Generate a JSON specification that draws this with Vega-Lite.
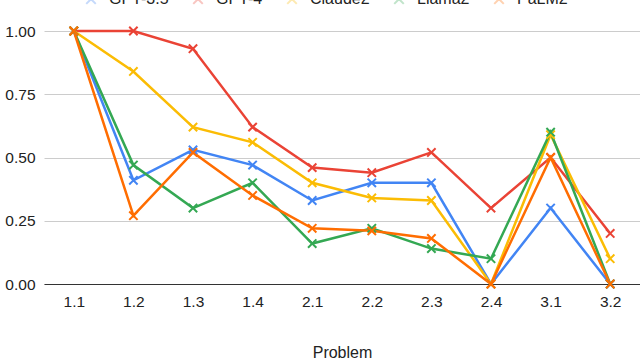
{
  "$schema": "https://vega.github.io/schema/vega-lite/v6.json",
  "autosize": {"type": "none"},
  "padding": {"left": 44, "top": 31, "right": 0, "bottom": 76},
  "width": 596,
  "height": 253,
  "background": "white",
  "config": {
    "font": "Liberation Sans",
    "view": {"stroke": null},
    "axis": {"labelFont": "Liberation Sans", "titleFont": "Liberation Sans", "labelColor": "#222222", "titleColor": "#222222", "labelFontSize": 15.5, "titleFontSize": 16, "titleFontWeight": "normal"}
  },
  "data": {"values": [
    {"problem": "1.1", "model": "GPT-3.5", "score": 1.0},
    {"problem": "1.2", "model": "GPT-3.5", "score": 0.41},
    {"problem": "1.3", "model": "GPT-3.5", "score": 0.53},
    {"problem": "1.4", "model": "GPT-3.5", "score": 0.47},
    {"problem": "2.1", "model": "GPT-3.5", "score": 0.33},
    {"problem": "2.2", "model": "GPT-3.5", "score": 0.40},
    {"problem": "2.3", "model": "GPT-3.5", "score": 0.40},
    {"problem": "2.4", "model": "GPT-3.5", "score": 0.0},
    {"problem": "3.1", "model": "GPT-3.5", "score": 0.30},
    {"problem": "3.2", "model": "GPT-3.5", "score": 0.0},
    {"problem": "1.1", "model": "GPT-4", "score": 1.0},
    {"problem": "1.2", "model": "GPT-4", "score": 1.0},
    {"problem": "1.3", "model": "GPT-4", "score": 0.93},
    {"problem": "1.4", "model": "GPT-4", "score": 0.62},
    {"problem": "2.1", "model": "GPT-4", "score": 0.46},
    {"problem": "2.2", "model": "GPT-4", "score": 0.44},
    {"problem": "2.3", "model": "GPT-4", "score": 0.52},
    {"problem": "2.4", "model": "GPT-4", "score": 0.30},
    {"problem": "3.1", "model": "GPT-4", "score": 0.50},
    {"problem": "3.2", "model": "GPT-4", "score": 0.20},
    {"problem": "1.1", "model": "Claude2", "score": 1.0},
    {"problem": "1.2", "model": "Claude2", "score": 0.84},
    {"problem": "1.3", "model": "Claude2", "score": 0.62},
    {"problem": "1.4", "model": "Claude2", "score": 0.56},
    {"problem": "2.1", "model": "Claude2", "score": 0.40},
    {"problem": "2.2", "model": "Claude2", "score": 0.34},
    {"problem": "2.3", "model": "Claude2", "score": 0.33},
    {"problem": "2.4", "model": "Claude2", "score": 0.0},
    {"problem": "3.1", "model": "Claude2", "score": 0.59},
    {"problem": "3.2", "model": "Claude2", "score": 0.10},
    {"problem": "1.1", "model": "Llama2", "score": 1.0},
    {"problem": "1.2", "model": "Llama2", "score": 0.47},
    {"problem": "1.3", "model": "Llama2", "score": 0.30},
    {"problem": "1.4", "model": "Llama2", "score": 0.40},
    {"problem": "2.1", "model": "Llama2", "score": 0.16},
    {"problem": "2.2", "model": "Llama2", "score": 0.22},
    {"problem": "2.3", "model": "Llama2", "score": 0.14},
    {"problem": "2.4", "model": "Llama2", "score": 0.10},
    {"problem": "3.1", "model": "Llama2", "score": 0.60},
    {"problem": "3.2", "model": "Llama2", "score": 0.0},
    {"problem": "1.1", "model": "PaLM2", "score": 1.0},
    {"problem": "1.2", "model": "PaLM2", "score": 0.27},
    {"problem": "1.3", "model": "PaLM2", "score": 0.52},
    {"problem": "1.4", "model": "PaLM2", "score": 0.35},
    {"problem": "2.1", "model": "PaLM2", "score": 0.22},
    {"problem": "2.2", "model": "PaLM2", "score": 0.21},
    {"problem": "2.3", "model": "PaLM2", "score": 0.18},
    {"problem": "2.4", "model": "PaLM2", "score": 0.0},
    {"problem": "3.1", "model": "PaLM2", "score": 0.50},
    {"problem": "3.2", "model": "PaLM2", "score": 0.0}
  ]},
  "encoding": {
    "x": {"field": "problem", "type": "ordinal", "scale": {"type": "point", "padding": 0.5},
      "axis": {"title": "Problem", "labelAngle": 0, "ticks": false, "grid": false, "domainColor": "#333333", "domainWidth": 1, "labelPadding": 10, "titlePadding": 35}},
    "y": {"field": "score", "type": "quantitative", "scale": {"domain": [0, 1], "nice": false},
      "axis": {"title": null, "values": [0, 0.25, 0.5, 0.75, 1], "format": ".2f", "ticks": false, "domain": false, "gridColor": "#cccccc", "gridWidth": 1, "labelPadding": 9}},
    "color": {"field": "model", "type": "nominal",
      "scale": {"domain": ["GPT-3.5", "GPT-4", "Claude2", "Llama2", "PaLM2"], "range": ["#4285F4", "#EA4335", "#FBBC04", "#34A853", "#FF6D01"]},
      "legend": {"title": null, "orient": "none", "direction": "horizontal", "legendX": 39, "legendY": -40, "labelFontSize": 16, "labelColor": "#222222", "labelOffset": 10, "columnPadding": 20, "symbolType": "M-1,-1L1,1M-1,1L1,-1", "symbolStrokeWidth": 2, "symbolOpacity": 0.3, "symbolSize": 90}}
  },
  "layer": [
    {"mark": {"type": "line", "strokeWidth": 2.5}},
    {"mark": {"type": "point", "shape": "M-1,-1L1,1M-1,1L1,-1", "filled": false, "strokeWidth": 2, "size": 70, "opacity": 1}}
  ]
}
